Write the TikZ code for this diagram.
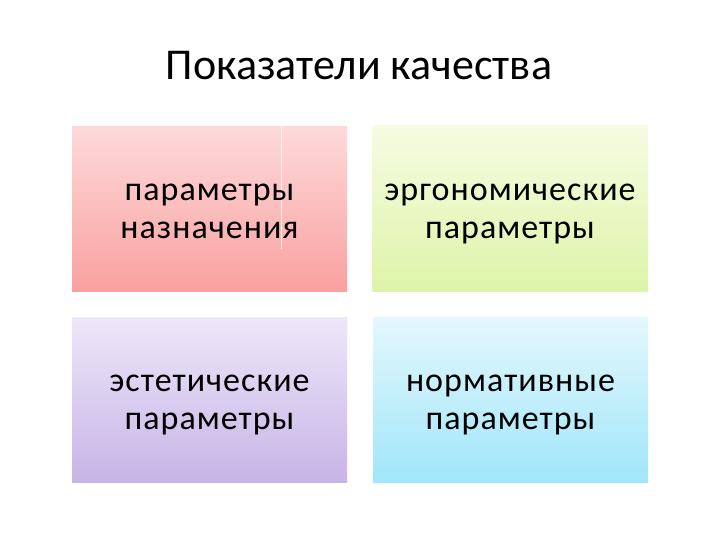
\documentclass[tikz,border=0pt]{standalone}
\usepackage{fontspec}
\setmainfont{Carlito}
\newfontfamily\cardfont[LetterSpace=3]{Carlito}
\definecolor{pkT}{RGB}{253,218,218}
\definecolor{pkB}{RGB}{250,160,160}
\definecolor{grT}{RGB}{246,251,226}
\definecolor{grB}{RGB}{222,244,168}
\definecolor{vlT}{RGB}{237,231,249}
\definecolor{vlB}{RGB}{199,180,230}
\definecolor{cyT}{RGB}{228,247,252}
\definecolor{cyB}{RGB}{160,230,250}
\newcommand{\topstrut}{\rule{0pt}{24pt}}
\newcommand{\botstrut}{\rule[-8pt]{0pt}{8pt}}
\begin{document}
\begin{tikzpicture}[x=1pt,y=-1pt,
  card/.style={minimum width=275pt,minimum height=165pt,inner sep=0pt},
  cardtext/.style={inner sep=0pt,align=center,yshift=-2.5pt,
    font=\cardfont\fontsize{34}{38}\selectfont,text=black},
  titletext/.style={font=\fontsize{44}{52}\selectfont,text=black,inner sep=0pt,anchor=base}]
\useasboundingbox (0,0) rectangle (720,540);
\fill[white] (0,0) rectangle (720,540);
\node[titletext] (title) at (359,80) {Показатели качества};
\node[card,top color=pkT,bottom color=pkB] (a) at (209.5,209) {};
\node[card,top color=grT,bottom color=grB] (b) at (510,208.5) {};
\node[card,top color=vlT,bottom color=vlB] (c) at (209.5,400) {};
\node[card,top color=cyT,bottom color=cyB] (d) at (510.5,400) {};
\draw[white!70!pkT,line width=0.8pt] (281,127) -- (281,249);
\node[cardtext] (ta) at (a.center) {\topstrut параметры\\назначения\botstrut};
\node[cardtext] (tb) at (b.center) {\topstrut эргономические\\параметры\botstrut};
\node[cardtext] (tc) at (c.center) {\topstrut эстетические\\параметры\botstrut};
\node[cardtext] (td) at (d.center) {\topstrut нормативные\\параметры\botstrut};
\end{tikzpicture}
\end{document}
